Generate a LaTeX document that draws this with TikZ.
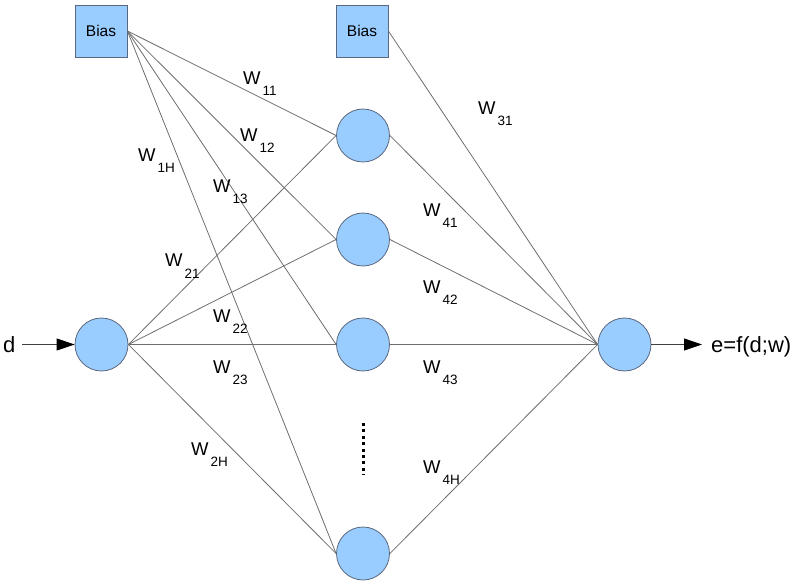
\documentclass[tikz,border=0pt]{standalone}
\usepackage{fontspec}
\setmainfont{Liberation Sans}
\usetikzlibrary{arrows.meta}
\definecolor{nfill}{RGB}{153,204,255}
\definecolor{nline}{RGB}{90,104,125}
\definecolor{wline}{RGB}{110,110,110}
\newcommand{\wlab}[1]{W\hspace{2pt}\raisebox{-11pt}{\fontsize{13.5}{13.5}\selectfont #1}}
\tikzset{
neuron/.style={circle, minimum size=53pt, inner sep=0pt, fill=nfill, draw=nline, line width=0.8pt},
biasbox/.style={rectangle, minimum size=52pt, inner sep=0pt, fill=nfill, draw=nline, line width=0.8pt,
  font=\fontsize{15.5}{15.5}\selectfont},
wlink/.style={draw=wline, line width=0.8pt},
signal/.style={draw=black!75, line width=0.8pt, -{Triangle[length=18pt,width=12pt,color=black]}},
wtext/.style={anchor=base west, inner sep=0pt, font=\fontsize{18.5}{18.5}\selectfont},
iotext/.style={inner sep=0pt, font=\fontsize{22}{22}\selectfont}
}
\begin{document}
\begin{tikzpicture}[x=1pt,y=-1pt]
\useasboundingbox (0,0) rectangle (800,585);

\node[biasbox] (bias1) at (101,31) {Bias};
\node[biasbox] (bias2) at (362,31) {Bias};
\node[neuron] (in) at (101.5,344.5) {};
\node[neuron] (h1) at (363,135.5) {};
\node[neuron] (h2) at (363,239.5) {};
\node[neuron] (h3) at (363,344.5) {};
\node[neuron] (h4) at (363,553.5) {};
\node[neuron] (out) at (624.5,344.5) {};

\foreach \h in {h1,h2,h3,h4}{
  \draw[wlink] (bias1.east) -- (\h.west);
  \draw[wlink] (in.east) -- (\h.west);
  \draw[wlink] (\h.east) -- (out.west);
}
\draw[wlink] (bias2.east) -- (out.west);

% dotted gap between hidden nodes
\coordinate (dtop) at (363,423);
\coordinate (dbot) at (363,475);
\draw[line width=3pt, dash pattern=on 3pt off 3.4pt] (dtop) -- (dbot);

% input and output
\node[iotext, anchor=base west] (dlab) at (3,352) {d};
\coordinate (din) at (22,344.5);
\draw[signal] (din) -- (in.west);
\coordinate (eout) at (702,344.5);
\draw[signal] (out.east) -- (eout);
\node[iotext, anchor=base west] (elab) at (711,352) {e=f(d;w)};

% weights
\node[wtext] (w11) at (243,85) {\wlab{11}};
\node[wtext] (w12) at (240,142) {\wlab{12}};
\node[wtext] (w1H) at (138,162) {\wlab{1H}};
\node[wtext] (w13) at (213,193) {\wlab{13}};
\node[wtext] (w21) at (165,267) {\wlab{21}};
\node[wtext] (w22) at (213,322) {\wlab{22}};
\node[wtext] (w23) at (213,373) {\wlab{23}};
\node[wtext] (w2H) at (191,455) {\wlab{2H}};
\node[wtext] (w31) at (478,115) {\wlab{31}};
\node[wtext] (w41) at (423,217) {\wlab{41}};
\node[wtext] (w42) at (423,293) {\wlab{42}};
\node[wtext] (w43) at (423,373) {\wlab{43}};
\node[wtext] (w4H) at (423,473) {\wlab{4H}};

\end{tikzpicture}
\end{document}
